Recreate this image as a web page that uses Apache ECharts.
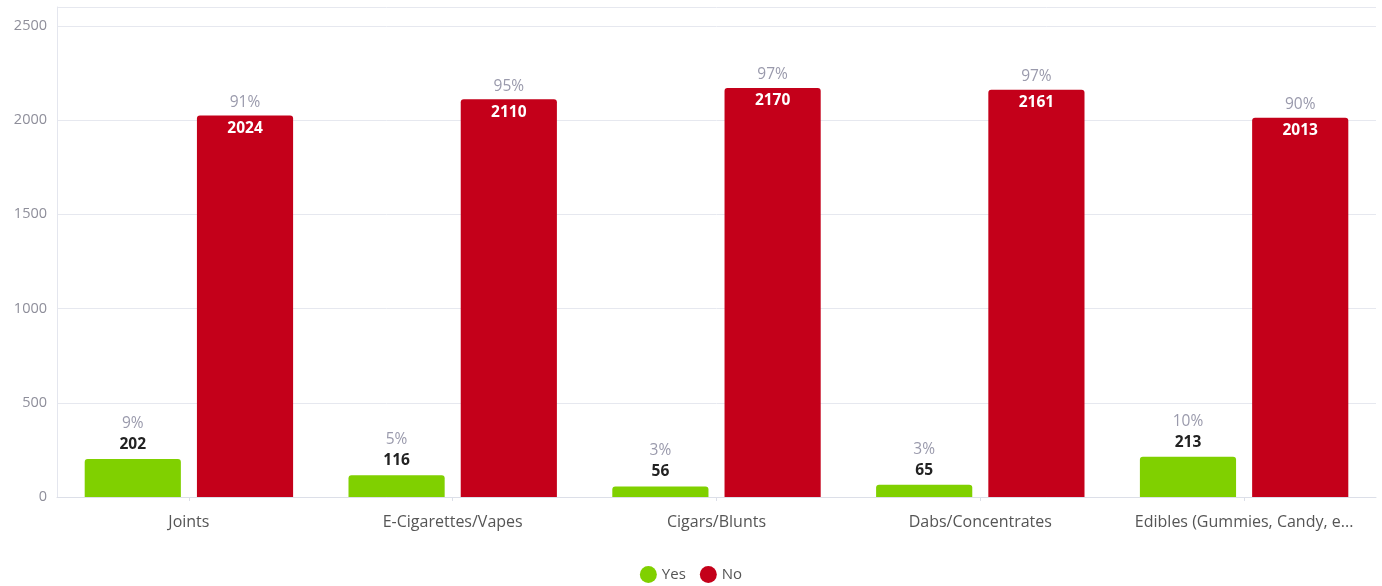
<!DOCTYPE html>
<html><head><meta charset="utf-8">
<script src="https://cdn.jsdelivr.net/npm/echarts@6/dist/echarts.min.js"></script>
<style>html,body{margin:0;padding:0;background:#fff}#c{width:1382px;height:586px}</style>
</head><body><div id="c"></div>
<script>
const categories = ['Joints', 'E-Cigarettes/Vapes', 'Cigars/Blunts', 'Dabs/Concentrates', 'Edibles (Gummies, Candy, e...'];
const yesValues = [202, 116, 56, 65, 213];
const noValues = [2024, 2110, 2170, 2161, 2013];
const yesPct = ['9%', '5%', '3%', '3%', '10%'];
const noPct = ['91%', '95%', '97%', '97%', '90%'];
const yTicks = [0, 500, 1000, 1500, 2000, 2500];

const FONT = '"Open Sans", "Noto Sans", sans-serif';
const chart = echarts.init(document.getElementById('c'));
chart.setOption({
  animation: false,
  textStyle: {fontFamily: FONT},
  grid: {left: 57, right: 6, top: 7, bottom: 89},
  legend: {
    bottom: -2, left: 'center', icon: 'circle', itemWidth: 17, itemHeight: 17, itemGap: 14,
    textStyle: {color: '#555', fontSize: 15, fontFamily: FONT},
    data: ['Yes', 'No']
  },
  xAxis: {
    type: 'category', data: categories,
    axisLine: {lineStyle: {color: '#dcdfe8'}},
    axisTick: {show: true, alignWithLabel: true, length: 4, lineStyle: {color: '#dcdfe8'}},
    axisLabel: {color: '#555', fontSize: 16, margin: 17, interval: 0, hideOverlap: false, fontFamily: FONT}
  },
  yAxis: {
    type: 'value', min: 0, max: 2600, interval: 500,
    axisLine: {show: true, lineStyle: {color: '#e4e6ee'}},
    axisTick: {show: false},
    axisLabel: {color: '#8e8e9a', fontSize: 14.5, margin: 10, fontFamily: FONT,
      formatter: v => yTicks.includes(v) ? String(v) : ''},
    splitLine: {lineStyle: {color: '#e6e8ef'}}
  },
  series: [
    {
      name: 'Yes', type: 'bar', data: yesValues,
      barCategoryGap: '21%', barGap: '16.7%',
      itemStyle: {color: '#80d000', borderRadius: [3, 3, 0, 0]},
      label: {
        show: true, position: 'top', distance: 4,
        formatter: p => '{p|' + yesPct[p.dataIndex] + '}\n{v|' + p.value + '}',
        rich: {
          p: {color: '#9a9aac', fontSize: 15.5, lineHeight: 21, fontFamily: FONT},
          v: {color: '#222', fontSize: 15.5, fontWeight: 'bold', lineHeight: 21, fontFamily: FONT}
        }
      }
    },
    {
      name: 'No', type: 'bar', data: noValues,
      itemStyle: {color: '#c4001a', borderRadius: [3, 3, 0, 0]},
      label: {
        show: true, position: 'insideTop', distance: 5, offset: [0, -31],
        formatter: p => '{p|' + noPct[p.dataIndex] + '}\n{v|' + p.value + '}',
        rich: {
          p: {color: '#9a9aac', fontSize: 15.5, lineHeight: 26, fontFamily: FONT},
          v: {color: '#fff', fontSize: 15.5, fontWeight: 'bold', lineHeight: 26, fontFamily: FONT}
        }
      }
    }
  ]
});
</script></body></html>
